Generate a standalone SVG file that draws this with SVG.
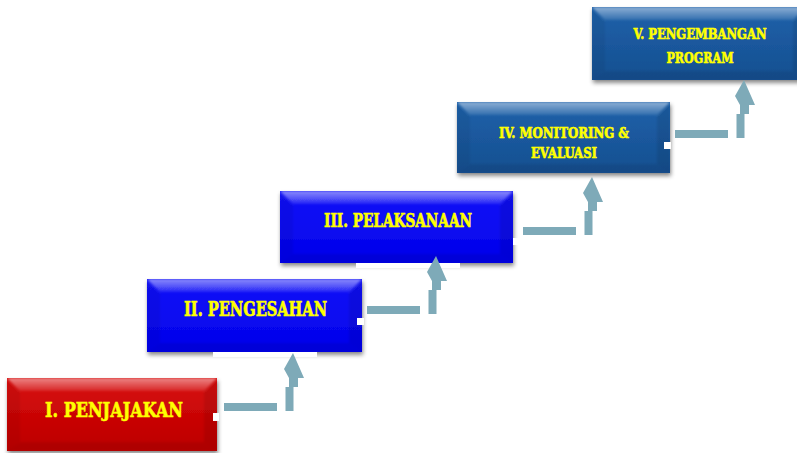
<svg xmlns="http://www.w3.org/2000/svg" width="797" height="453" viewBox="0 0 797 453">
  <defs>
    <filter id="shadow" x="-10%" y="-20%" width="125%" height="150%">
      <feDropShadow dx="1" dy="3" stdDeviation="2" flood-color="#000" flood-opacity="0.45"/>
    </filter>
    <filter id="soft" x="-5%" y="-5%" width="110%" height="110%">
      <feGaussianBlur stdDeviation="1.2"/>
    </filter>
    <linearGradient id="faceRed" x1="0" y1="0" x2="0" y2="1">
      <stop offset="0" stop-color="#d80c0c"/>
      <stop offset="1" stop-color="#bc0000"/>
    </linearGradient>
    <linearGradient id="faceBlue" x1="0" y1="0" x2="0" y2="1">
      <stop offset="0" stop-color="#1414f8"/>
      <stop offset="1" stop-color="#0000ea"/>
    </linearGradient>
    <linearGradient id="faceNavy" x1="0" y1="0" x2="0" y2="1">
      <stop offset="0" stop-color="#1f61aa"/>
      <stop offset="1" stop-color="#154f90"/>
    </linearGradient>
    <linearGradient id="bevelTop" x1="0" y1="0" x2="0" y2="1">
      <stop offset="0" stop-color="#fff" stop-opacity="0.5"/>
      <stop offset="1" stop-color="#fff" stop-opacity="0.1"/>
    </linearGradient>
  </defs>
  <style>
    .bevel { filter: url(#soft); }
    .top { fill: url(#bevelTop); }
    .left { fill: #000; fill-opacity: 0.06; }
    .right { fill: #000; fill-opacity: 0.09; }
    .bottom { fill: #000; fill-opacity: 0.08; }
    .red .face { fill: url(#faceRed); }
    .blue .face { fill: url(#faceBlue); }
    .navy .face { fill: url(#faceNavy); }
    .face { filter: url(#shadow); }
    .label { font-family: "DejaVu Serif Condensed", "DejaVu Serif", serif; font-weight: bold; fill: #ffff00; stroke: #ffff00; stroke-width: 0.6; text-anchor: middle; }
    .mask { fill: #fff; }
    .link { fill: none; stroke: #7eaab8; stroke-width: 8; stroke-linejoin: miter; }
    .head { fill: #7eaab8; }
  </style>

  <!-- steps -->
  <g id="step1" class="red">
    <rect class="face" x="7" y="378" width="210" height="73"/>
    <g class="bevel">
      <polygon class="top" points="7,378 217,378 204,391 20,391"/>
      <polygon class="left" points="7,378 20,391 20,442 7,451"/>
      <polygon class="right" points="217,378 217,451 204,442 204,391"/>
      <polygon class="bottom" points="7,451 20,442 204,442 217,451"/>
    </g>
    <text class="label" x="114" y="417" font-size="21" textLength="138" lengthAdjust="spacingAndGlyphs">I. PENJAJAKAN</text>
  </g>

  <g id="step2" class="blue">
    <rect class="face" x="147" y="279" width="215" height="73"/>
    <g class="bevel">
      <polygon class="top" points="147,279 362,279 349,292 160,292"/>
      <polygon class="left" points="147,279 160,292 160,343 147,352"/>
      <polygon class="right" points="362,279 362,352 349,343 349,292"/>
      <polygon class="bottom" points="147,352 160,343 349,343 362,352"/>
    </g>
    <text class="label" x="255.5" y="316" font-size="20" textLength="143" lengthAdjust="spacingAndGlyphs">II. PENGESAHAN</text>
  </g>

  <g id="step3" class="blue">
    <rect class="face" x="280" y="191" width="233" height="72"/>
    <g class="bevel">
      <polygon class="top" points="280,191 513,191 500,204 293,204"/>
      <polygon class="left" points="280,191 293,204 293,254 280,263"/>
      <polygon class="right" points="513,191 513,263 500,254 500,204"/>
      <polygon class="bottom" points="280,263 293,254 500,254 513,263"/>
    </g>
    <text class="label" x="398" y="227" font-size="18" textLength="148" lengthAdjust="spacingAndGlyphs">III. PELAKSANAAN</text>
  </g>

  <g id="step4" class="navy">
    <rect class="face" x="457" y="102" width="213" height="71"/>
    <g class="bevel">
      <polygon class="top" points="457,102 670,102 657,115 470,115"/>
      <polygon class="left" points="457,102 470,115 470,164 457,173"/>
      <polygon class="right" points="670,102 670,173 657,164 657,115"/>
      <polygon class="bottom" points="457,173 470,164 657,164 670,173"/>
    </g>
    <text class="label" x="564" y="138" font-size="15" textLength="130" lengthAdjust="spacingAndGlyphs">IV. MONITORING &amp;</text>
    <text class="label" x="564" y="158" font-size="15" textLength="66" lengthAdjust="spacingAndGlyphs">EVALUASI</text>
  </g>

  <g id="step5" class="navy">
    <rect class="face" x="592" y="7" width="214" height="73"/>
    <g class="bevel">
      <polygon class="top" points="592,7 806,7 793,20 605,20"/>
      <polygon class="left" points="592,7 605,20 605,71 592,80"/>
      <polygon class="right" points="806,7 806,80 793,71 793,20"/>
      <polygon class="bottom" points="592,80 605,71 793,71 806,80"/>
    </g>
    <text class="label" x="700" y="39" font-size="15" textLength="133" lengthAdjust="spacingAndGlyphs">V. PENGEMBANGAN</text>
    <text class="label" x="700" y="63" font-size="15" textLength="67" lengthAdjust="spacingAndGlyphs">PROGRAM</text>
  </g>

  <!-- white patches over the box edges -->
  <g id="patches">
    <rect class="mask" x="213" y="413" width="6" height="8"/>
    <rect class="mask" x="357" y="318" width="7" height="7"/>
    <rect class="mask" x="213" y="352" width="104" height="5"/>
    <rect class="mask" x="513" y="238" width="7" height="7"/>
    <rect class="mask" x="356" y="263" width="104" height="5"/>
    <rect class="mask" x="664" y="142" width="7" height="7"/>
  </g>

  <!-- stepped arrows between the stages -->
  <g id="connectors">
    <g id="link1-2">
      <path class="link" d="M224,407 H277 M285.5,407 H289.5 V387"/>
      <polygon class="head" points="289,387 298,387 298,378 304,378 293,353 284,369 289,378"/>
    </g>
    <g id="link2-3" transform="translate(143,-97)">
      <path class="link" d="M224,407 H277 M285.5,407 H289.5 V387"/>
      <polygon class="head" points="289,387 298,387 298,378 304,378 293,353 284,369 289,378"/>
    </g>
    <g id="link3-4" transform="translate(299,-176)">
      <path class="link" d="M224,407 H277 M285.5,407 H289.5 V387"/>
      <polygon class="head" points="289,387 298,387 298,378 304,378 293,353 284,369 289,378"/>
    </g>
    <g id="link4-5" transform="translate(451,-273)">
      <path class="link" d="M224,407 H277 M285.5,407 H289.5 V387"/>
      <polygon class="head" points="289,387 298,387 298,378 304,378 293,353 284,369 289,378"/>
    </g>
  </g>
</svg>
